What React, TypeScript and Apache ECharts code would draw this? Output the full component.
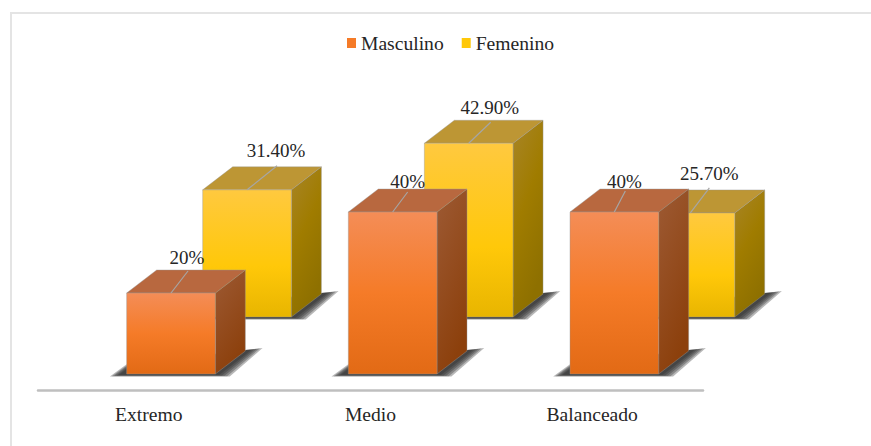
import React, { useEffect, useRef } from "react";
import * as echarts from "echarts";

const categories = ["Extremo", "Medio", "Balanceado"];
const masculino = [20, 40, 40];
const femenino = [31.4, 42.9, 25.7];
const masculinoLabels = ["20%", "40%", "40%"];
const femeninoLabels = ["31.40%", "42.90%", "25.70%"];
const masculinoLabelShift = [[16, -36], [15, -31], [10, -31]];
const femeninoLabelShift = [[29, -39], [21, -36], [19, -39]];
const masculinoLeader = [[17, -22], [15, -20], [11, -21]];
const femeninoLeader = [[30, -24], [22, -21], [19, -25]];

const FONT = '"Liberation Serif", "Times New Roman", serif';
const TEXT = "#262626";
const DX = 30;
const DY = -23;
const SHADOW_LAYERS = [4, 3, 2, 1, 0];

const grad = (x2: number, y2: number, stops: [number, string][]) =>
  new echarts.graphic.LinearGradient(0, 0, x2, y2, stops.map(([offset, color]) => ({ offset, color })));

type Skin = {
  front: [number, string][];
  side: [number, string][];
  top: string;
  centre: number;
  lift: number;
  labels: string[];
  shift: number[][];
  leader: number[][];
};

const box = (skin: Skin) => (params: any, api: any) => {
  const i = api.value(0);
  const band = api.size([1, 0])[0];
  const width = band * 0.4;
  const [cx, yTop0] = api.coord([i, api.value(1)]);
  const [, yBase0] = api.coord([i, 0]);
  const x0 = cx + band * skin.centre - width / 2;
  const x1 = x0 + width;
  const yTop = yTop0 - skin.lift;
  const b = yBase0 - skin.lift;
  const edge = { stroke: "rgba(150,150,150,0.4)", lineWidth: 1 };
  const mid = (x0 + x1) / 2;
  const s = skin.shift[i];
  const l = skin.leader[i];
  const shadows = SHADOW_LAYERS.map((g) => ({
    type: "polygon",
    shape: {
      points: [
        [x0 - 8 - g * 2.2, b + 1 + g * 0.4],
        [x0, b - 5 - g * 1.2],
        [x1 + DX, b + DY - 1],
        [x1 + DX + 6 + g * 2.8, b + DY - 1 - g * 0.5],
        [x1 + 4 + g * 2.6, b + 1 + g * 0.4],
      ],
    },
    style: { fill: "rgba(45,45,45,0.34)" },
  }));
  return {
    type: "group",
    children: [
      ...shadows,
      {
        type: "polygon",
        shape: { points: [[x1, yTop], [x1 + DX, yTop + DY], [x1 + DX, b + DY], [x1, b]] },
        style: { fill: grad(0.4, 1, skin.side), ...edge },
      },
      {
        type: "polygon",
        shape: { points: [[x0, yTop], [x0 + DX, yTop + DY], [x1 + DX, yTop + DY], [x1, yTop]] },
        style: { fill: skin.top, ...edge },
      },
      {
        type: "rect",
        shape: { x: x0, y: yTop, width, height: b - yTop },
        style: { fill: grad(0, 1, skin.front), ...edge },
      },
      {
        type: "line",
        shape: { x1: mid, y1: yTop, x2: mid + l[0], y2: yTop + l[1] },
        style: { stroke: "#A6A6A6", lineWidth: 1.2 },
      },
      {
        type: "text",
        style: {
          x: mid + s[0],
          y: yTop + s[1],
          text: skin.labels[i],
          font: `19px ${FONT}`,
          fill: TEXT,
          align: "center",
          verticalAlign: "middle",
        },
      },
    ],
  };
};

const orange: Skin = {
  front: [[0, "#F48D57"], [0.5, "#F57B28"], [1, "#E26A15"]],
  side: [[0, "#9D5A34"], [1, "#8C400C"]],
  top: "#B8683F",
  centre: 0.1,
  lift: 0,
  labels: masculinoLabels,
  shift: masculinoLabelShift,
  leader: masculinoLeader,
};

const yellow: Skin = {
  front: [[0, "#FFC93F"], [0.6, "#FFC809"], [1, "#E8B500"]],
  side: [[0, "#A88528"], [0.5, "#A07C00"], [1, "#8E7000"]],
  top: "#BD9634",
  centre: 0.443,
  lift: 57,
  labels: femeninoLabels,
  shift: femeninoLabelShift,
  leader: femeninoLeader,
};

export default function App() {
  const ref = useRef<HTMLDivElement>(null);
  useEffect(() => {
    const chart = echarts.init(ref.current!, undefined, { renderer: "svg", width: 871, height: 446 });
    chart.setOption({
      animation: false,
      backgroundColor: "#fff",
      graphic: [
        { type: "rect", shape: { x: 10, y: 12, width: 861, height: 2 }, style: { fill: "#E4E4E4" } },
        { type: "rect", shape: { x: 10, y: 12, width: 2, height: 434 }, style: { fill: "#E4E4E4" } },
      ],
      legend: {
        data: [
          { name: "Masculino", itemStyle: { color: "#F57B28" } },
          { name: "Femenino", itemStyle: { color: "#FFC809" } },
        ],
        left: 342,
        top: 28,
        icon: "rect",
        itemWidth: 9,
        itemHeight: 10,
        itemGap: 18,
        textStyle: { fontFamily: FONT, fontSize: 19.6, color: TEXT, padding: [0, 0, 0, 0] },
      },
      grid: { left: 38, right: 168, top: 50, bottom: 72 },
      xAxis: {
        type: "category",
        data: categories,
        offset: 16,
        axisTick: { show: false },
        axisLine: { show: true, onZero: false, lineStyle: { color: "#BFBFBF", width: 2.5 } },
        axisLabel: { fontFamily: FONT, fontSize: 19.6, color: TEXT, margin: 14 },
      },
      yAxis: { type: "value", min: 0, max: 80, interval: 20, show: false },
      series: [
        {
          name: "Femenino",
          type: "custom",
          renderItem: box(yellow),
          encode: { x: 0, y: 1 },
          itemStyle: { color: "#FFC809" },
          data: femenino.map((v, i) => [i, v]),
        },
        {
          name: "Masculino",
          type: "custom",
          renderItem: box(orange),
          encode: { x: 0, y: 1 },
          itemStyle: { color: "#F57B28" },
          data: masculino.map((v, i) => [i, v]),
        },
      ],
    });
    return () => chart.dispose();
  }, []);
  return <div ref={ref} style={{ position: "absolute", left: 0, top: 0, width: 871, height: 446 }} />;
}
